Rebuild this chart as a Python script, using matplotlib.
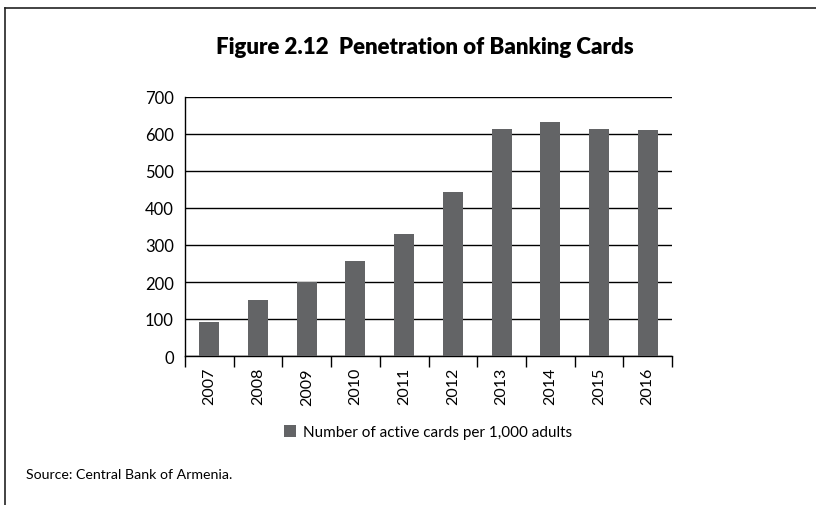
import matplotlib
matplotlib.use("Agg")
import matplotlib.pyplot as plt
import numpy as np
from matplotlib.lines import Line2D
from matplotlib.patches import Patch

years = ["2007", "2008", "2009", "2010", "2011", "2012", "2013", "2014", "2015", "2016"]
cards = [92, 151, 200, 256, 330, 443, 614, 632, 614, 611]
yticks = [0, 100, 200, 300, 400, 500, 600, 700]
title = "Figure 2.12  Penetration of Banking Cards"
legend_label = "Number of active cards per 1,000 adults"
source = "Source: Central Bank of Armenia."

plt.rcParams['font.family'] = ['Lato', 'DejaVu Sans']
W, H = 816, 506
fig = plt.figure(figsize=(W/100, H/100), dpi=100)
ax = fig.add_axes([185/W, 1-357/H, (672-185)/W, (357-98)/H])

x = np.arange(len(years))
ax.bar(x, cards, width=0.41, color="#636466", zorder=3)
ax.set_xlim(-0.5, len(years)-0.5)
ax.set_ylim(0, 700)
ax.set_yticks(yticks)
ax.set_yticklabels([str(v) for v in yticks], fontsize=12)
ax.yaxis.grid(True, color="black", linewidth=1.0, zorder=1)
ax.tick_params(axis='y', length=0, pad=8)
ax.set_xticks(x)
ax.set_xticklabels(years, rotation=90, fontsize=11.5)
ax.tick_params(axis='x', which='major', length=0, pad=8)
ax.set_xticks(np.arange(-0.5, len(years), 1.0), minor=True)
ax.tick_params(axis='x', which='minor', length=8, width=1, color='black', direction='out')
for s in ['top', 'right']:
    ax.spines[s].set_visible(False)
for s in ['left', 'bottom']:
    ax.spines[s].set_color('black')
    ax.spines[s].set_linewidth(1.0)

fig.text(425/W, 1-47/H, title, ha='center', va='center', fontsize=16, fontweight='heavy')

handle = Patch(facecolor="#636466", edgecolor="none")
fig.legend([handle], [legend_label], loc='center', bbox_to_anchor=(428/W, 1-433/H),
           frameon=False, fontsize=11, handlelength=0.8, handleheight=0.8, handletextpad=0.5)

fig.text(26/W, 1-475/H, source, ha='left', va='center', fontsize=10.2)

# frame lines
fig.add_artist(Line2D([4.5/W, 1.0], [1-9/H, 1-9/H], color='#222222', linewidth=1.2, transform=fig.transFigure))
fig.add_artist(Line2D([4.5/W, 4.5/W], [1-9/H, 0.0], color='#222222', linewidth=1.2, transform=fig.transFigure))

fig.savefig("out.png", dpi=100)
